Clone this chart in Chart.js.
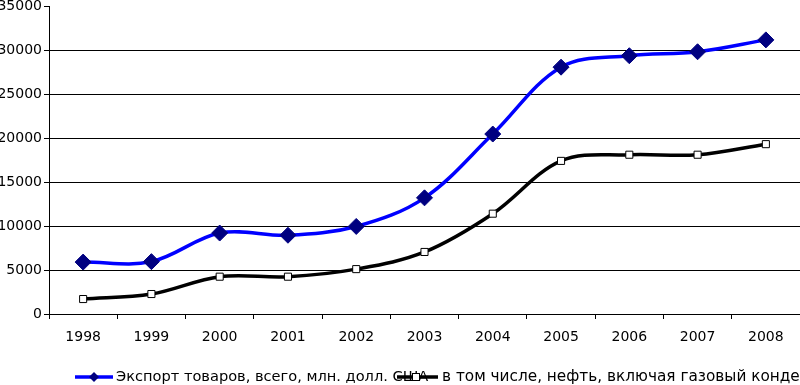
<!DOCTYPE html>
<html>
<head>
<meta charset="utf-8">
<script src="https://cdn.jsdelivr.net/npm/chart.js@4.4.0/dist/chart.umd.min.js"></script>
<style>
  html, body { margin: 0; padding: 0; background: #fff; }
  #wrap { width: 800px; height: 385px; position: relative; }
</style>
</head>
<body>
<div id="wrap"><canvas id="c" width="800" height="385"></canvas></div>
<script>
const years = ['1998','1999','2000','2001','2002','2003','2004','2005','2006','2007','2008'];
const exportTotal = [5900, 5950, 9200, 8950, 9950, 13200, 20450, 28050, 29350, 29800, 31150];
const exportOil = [1700, 2270, 4240, 4240, 5100, 7050, 11400, 17400, 18100, 18100, 19300];
const seriesLabels = ['Экспорт товаров, всего, млн. долл. США', 'в том числе, нефть, включая газовый конденсат, млн. долл. США'];
const yTicks = { min: 0, max: 35000, step: 5000 };

const FONT = '"DejaVu Sans", sans-serif';

const legendPlugin = {
  id: 'customLegend',
  afterDraw(chart) {
    const ctx = chart.ctx;
    const y = 377;
    const items = [
      { x0: 75, x1: 113, mx: 94, tx: 116, fs: 14.6, ds: chart.data.datasets[0] },
      { x0: 397, x1: 438, mx: 416, tx: 442, fs: 15.3, ds: chart.data.datasets[1] }
    ];
    ctx.save();
    items.forEach(it => {
      ctx.fillStyle = '#000';
      ctx.font = it.fs + 'px ' + FONT;
      ctx.textBaseline = 'middle';
      ctx.textAlign = 'left';
      ctx.fillText(it.ds.label, it.tx, y);
    });
    items.forEach(it => {
      ctx.strokeStyle = it.ds.borderColor;
      ctx.lineWidth = 3.5;
      ctx.beginPath();
      ctx.moveTo(it.x0, y);
      ctx.lineTo(it.x1, y);
      ctx.stroke();
      if (it.ds.pointStyle === 'rectRot') {
        ctx.fillStyle = it.ds.pointBackgroundColor;
        ctx.beginPath();
        ctx.moveTo(it.mx, y - 5); ctx.lineTo(it.mx + 5, y); ctx.lineTo(it.mx, y + 5); ctx.lineTo(it.mx - 5, y);
        ctx.closePath(); ctx.fill();
      } else {
        ctx.fillStyle = '#fff';
        ctx.strokeStyle = '#000';
        ctx.lineWidth = 1;
        ctx.fillRect(it.mx - 3.5, y - 3.5, 7, 7);
        ctx.strokeRect(it.mx - 3.5, y - 3.5, 7, 7);
      }
    });
    ctx.restore();
  }
};

new Chart(document.getElementById('c'), {
  type: 'line',
  data: {
    labels: years,
    datasets: [
      {
        label: seriesLabels[0],
        data: exportTotal,
        borderColor: '#0000ff',
        borderWidth: 3.5,
        tension: 0.35,
        pointStyle: 'rectRot',
        pointRadius: 8,
        pointBackgroundColor: '#000080',
        pointBorderColor: '#000080',
        pointBorderWidth: 1,
        fill: false
      },
      {
        label: seriesLabels[1],
        data: exportOil,
        borderColor: '#000000',
        borderWidth: 3.5,
        tension: 0.35,
        pointStyle: 'rect',
        pointRadius: 5,
        pointBackgroundColor: '#ffffff',
        pointBorderColor: '#000000',
        pointBorderWidth: 1,
        fill: false
      }
    ]
  },
  options: {
    responsive: false,
    animation: false,
    events: [],
    layout: { autoPadding: false, padding: { top: 6, right: 0, bottom: 0, left: 0 } },
    plugins: { legend: { display: false }, tooltip: { enabled: false } },
    scales: {
      x: {
        type: 'category',
        offset: true,
        grid: { offset: true, drawOnChartArea: false, color: '#000', tickColor: '#000', tickLength: 5 },
        border: { display: true, color: '#000', width: 1 },
        ticks: { color: '#000', font: { family: FONT, size: 14 }, padding: 10, maxRotation: 0 },
        afterFit(scale) { scale.height = 71; scale.paddingLeft = 0; scale.paddingRight = 0; }
      },
      y: {
        min: yTicks.min,
        max: yTicks.max,
        ticks: {
          stepSize: yTicks.step,
          color: '#000',
          font: { family: FONT, size: 14 },
          padding: 2,
          callback: (v) => String(v)
        },
        grid: {
          color: (c) => (c.tick && c.tick.value === yTicks.max) ? 'rgba(0,0,0,0)' : '#000',
          tickColor: '#000',
          tickLength: 5,
          lineWidth: 1
        },
        border: { display: true, color: '#000', width: 1 },
        afterFit(scale) { scale.width = 49; scale.paddingTop = 0; scale.paddingBottom = 0; }
      }
    }
  },
  plugins: [legendPlugin]
});
</script>
</body>
</html>
